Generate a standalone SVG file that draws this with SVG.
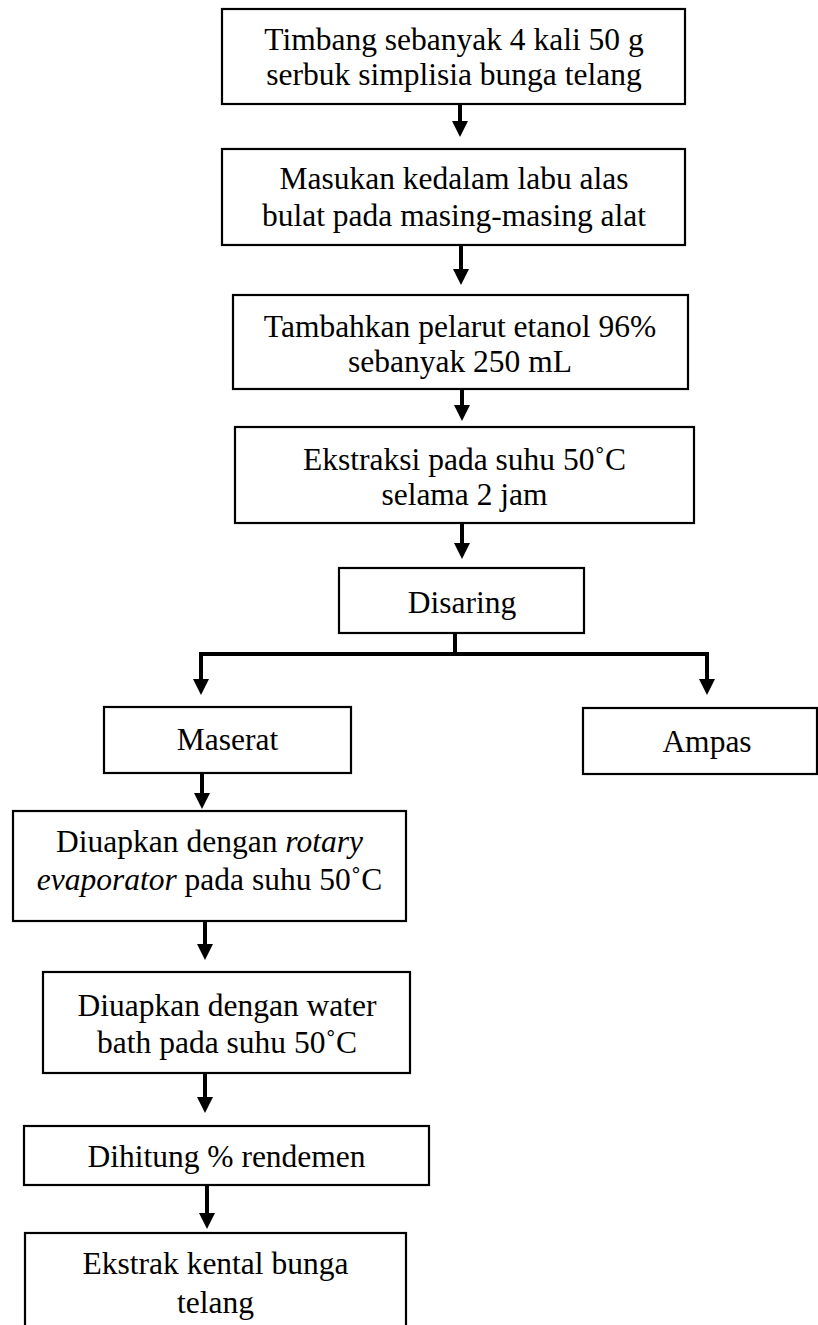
<svg xmlns="http://www.w3.org/2000/svg" width="818" height="1325" viewBox="0 0 818 1325">
<style>
.box{fill:#fff;stroke:#000;stroke-width:2.2}
.t{font-family:"Liberation Serif","Times New Roman",serif;font-size:31.5px;fill:#000;text-anchor:middle}
.c{fill:none;stroke:#000;stroke-width:4}
.i{font-style:italic}
</style>
<defs>
<marker id="ah" viewBox="0 0 16 16" refX="0" refY="8" markerWidth="16" markerHeight="16" markerUnits="userSpaceOnUse" orient="auto">
<path d="M0,0 L16,8 L0,16 z" fill="#000"/>
</marker>
</defs>
<rect width="818" height="1325" fill="#fff"/>
<g id="connectors">
<line class="c" x1="460" y1="104" x2="460" y2="121" marker-end="url(#ah)"/>
<line class="c" x1="461" y1="245" x2="461" y2="269" marker-end="url(#ah)"/>
<line class="c" x1="462" y1="389" x2="462" y2="405" marker-end="url(#ah)"/>
<line class="c" x1="462" y1="519" x2="462" y2="543" marker-end="url(#ah)"/>
<polyline class="c" points="455,633 455,654 201,654 201,679" marker-end="url(#ah)"/>
<polyline class="c" points="455,654 707,654 707,679" marker-end="url(#ah)"/>
<line class="c" x1="202" y1="773" x2="202" y2="793" marker-end="url(#ah)"/>
<line class="c" x1="205" y1="921" x2="205" y2="944" marker-end="url(#ah)"/>
<line class="c" x1="205" y1="1073" x2="205" y2="1097" marker-end="url(#ah)"/>
<line class="c" x1="207" y1="1185" x2="207" y2="1213" marker-end="url(#ah)"/>
</g>
<g id="n1"><rect class="box" x="222" y="9" width="463" height="95"/>
<text class="t" x="454" y="50">Timbang sebanyak 4 kali 50 g</text>
<text class="t" x="454" y="85">serbuk simplisia bunga telang</text></g>
<g id="n2"><rect class="box" x="222" y="149" width="463" height="96"/>
<text class="t" x="454" y="189">Masukan kedalam labu alas</text>
<text class="t" x="454" y="226">bulat pada masing-masing alat</text></g>
<g id="n3"><rect class="box" x="233" y="295" width="455" height="94"/>
<text class="t" x="460" y="337">Tambahkan pelarut etanol 96%</text>
<text class="t" x="460" y="372">sebanyak 250 mL</text></g>
<g id="n4"><rect class="box" x="235" y="427" width="459" height="96"/>
<text class="t" x="464.5" y="470">Ekstraksi pada suhu 50˚C</text>
<text class="t" x="464.5" y="505">selama 2 jam</text></g>
<g id="n5"><rect class="box" x="339" y="568" width="245" height="65"/>
<text class="t" x="462" y="613">Disaring</text></g>
<g id="n6"><rect class="box" x="104" y="707" width="247" height="66"/>
<text class="t" x="227.5" y="750">Maserat</text></g>
<g id="n7"><rect class="box" x="583" y="708" width="234" height="66"/>
<text class="t" x="707" y="752">Ampas</text></g>
<g id="n8"><rect class="box" x="13" y="811" width="393" height="110"/>
<text class="t" x="209.5" y="852">Diuapkan dengan <tspan class="i">rotary</tspan></text>
<text class="t" x="209.5" y="890"><tspan class="i">evaporator</tspan> pada suhu 50˚C</text></g>
<g id="n9"><rect class="box" x="43" y="972" width="367" height="101"/>
<text class="t" x="227" y="1016">Diuapkan dengan water</text>
<text class="t" x="227" y="1053">bath pada suhu 50˚C</text></g>
<g id="n10"><rect class="box" x="24" y="1126" width="405" height="59"/>
<text class="t" x="226.5" y="1167">Dihitung % rendemen</text></g>
<g id="n11"><rect class="box" x="25" y="1233" width="381" height="120"/>
<text class="t" x="215.5" y="1274">Ekstrak kental bunga</text>
<text class="t" x="215.5" y="1313">telang</text></g>
</svg>
